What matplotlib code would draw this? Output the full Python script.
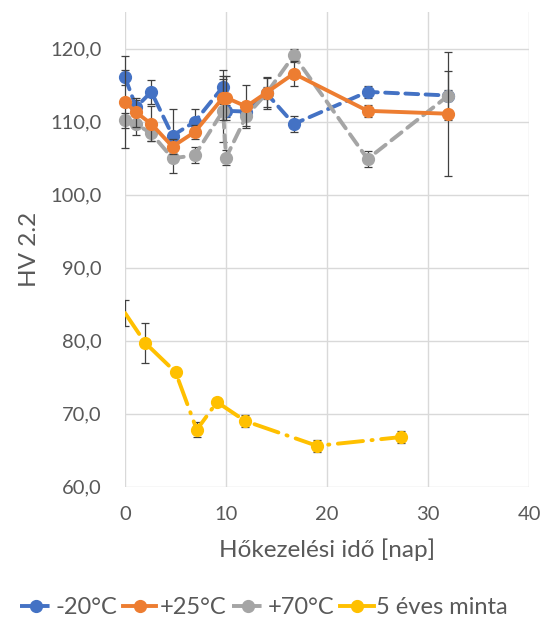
import matplotlib
matplotlib.use("Agg")
import matplotlib.pyplot as plt
from matplotlib.lines import Line2D

plt.rcParams['font.family'] = ['Lato', 'DejaVu Sans']

# Heat-treatment time [days] for the three temperature series
days = [0, 1.1, 2.6, 4.7, 6.9, 9.7, 10.0, 12.0, 14.0, 16.7, 24.0, 32.0]

hv_m20 = [116.1, 112.0, 114.1, 108.1, 110.0, 114.8, 111.5, 111.4, 113.9, 109.7, 114.1, 113.6]
err_m20 = [1.0, 1.0, 1.6, 3.6, 1.7, 2.3, 0.8, 0.8, 0.8, 1.1, 0.8, 0.8]

hv_p25 = [112.7, 111.3, 109.7, 106.6, 108.6, 113.3, 113.3, 112.1, 114.0, 116.6, 111.5, 111.1]
err_p25 = [6.3, 2.0, 2.4, 1.0, 1.0, 3.0, 3.0, 2.9, 2.0, 1.7, 0.8, 8.5]

hv_p70 = [110.2, 109.7, 108.4, 105.0, 105.4, 111.5, 105.1, 110.8, 113.9, 119.1, 104.9, 113.6]
err_p70 = [1.0, 1.5, 1.0, 2.0, 1.1, 4.3, 1.0, 1.4, 2.2, 0.9, 1.1, 3.4]

# Five-year-old reference sample
days_5y = [0, 2.0, 5.0, 7.1, 9.1, 11.9, 19.0, 27.3]
hv_5y = [83.8, 79.7, 75.7, 67.8, 71.6, 69.0, 65.6, 66.8]
err_5y = [1.8, 2.7, 0.5, 1.0, 0.6, 0.8, 0.8, 0.8]

labels = ['-20°C', '+25°C', '+70°C', '5 éves minta']
colors = ['#4472C4', '#ED7D31', '#A5A5A5', '#FFC000']

fig = plt.figure(figsize=(5.44, 6.28), dpi=100)
ax = fig.add_axes([0.2298, 0.225, 0.973 - 0.2298, 0.9804 - 0.225])

lw = 2.8
ms = 8.5
ecol = '#404040'
dash = (3.3, 1.9)
dashdot = (6.5, 2.2, 0.3, 2.2)

series = [
    (days, hv_m20, err_m20, colors[0], dash, 3),
    (days, hv_p70, err_p70, colors[2], dash, 4),
    (days, hv_p25, err_p25, colors[1], None, 5),
]
for x, y, e, c, ds, z in series:
    ax.errorbar(x, y, yerr=e, fmt='none', ecolor=ecol, elinewidth=0.9,
                capsize=2.6, capthick=0.9, zorder=z - 0.5, clip_on=False)
    ln, = ax.plot(x, y, color=c, lw=lw, marker='o', ms=ms, zorder=z,
                  clip_on=False, solid_capstyle='round')
    if ds is not None:
        ln.set_dashes(ds)
        ln.set_dash_capstyle('round')

ax.errorbar(days_5y, hv_5y, yerr=err_5y, fmt='none', ecolor=ecol, elinewidth=0.9,
            capsize=2.6, capthick=0.9, zorder=5.5)
ln5, = ax.plot(days_5y, hv_5y, color=colors[3], lw=lw, marker='o', ms=ms,
               markevery=list(range(1, len(days_5y))), zorder=6)
ln5.set_dashes(dashdot)
ln5.set_dash_capstyle('round')

ax.set_xlim(0, 40)
ax.set_ylim(60, 125)
ax.set_xticks([0, 10, 20, 30, 40])
ax.set_yticks([60, 70, 80, 90, 100, 110, 120])
ax.set_yticklabels([f'{v},0' for v in [60, 70, 80, 90, 100, 110, 120]])
ax.grid(True, color='#D9D9D9', lw=1.0)
ax.set_axisbelow(True)
for s in ax.spines.values():
    s.set_visible(False)
ax.tick_params(length=0, labelsize=14.5, colors='#595959')
ax.tick_params(axis='y', pad=17)
ax.tick_params(axis='x', pad=14)

ax.set_xlabel('Hőkezelési idő [nap]', fontsize=17.5, color='#595959', labelpad=11)
ax.set_ylabel('HV 2.2', fontsize=17.5, color='#595959', labelpad=7)

# Legend handles: line with marker in the middle
leg_handles = []
for i, c in enumerate(colors):
    h = Line2D([0, 1], [0, 0], color=c, lw=lw, marker='o', ms=ms)
    if i in (0, 2):
        h.set_dashes((3.3, 1.0))
    leg_handles.append(h)

fig.legend(leg_handles, labels, loc='center', bbox_to_anchor=(0.485, 0.032),
           ncol=4, frameon=False, fontsize=17, labelcolor='#595959',
           handlelength=1.4, handletextpad=0.12, columnspacing=0.25,
           borderaxespad=0)

fig.savefig('out.png', dpi=100)
